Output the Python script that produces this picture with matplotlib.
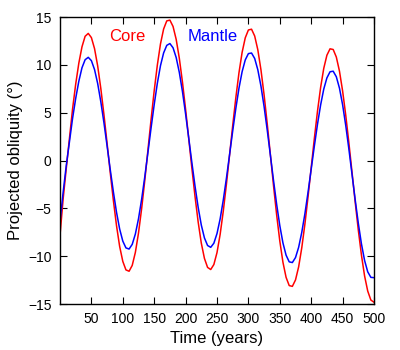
#importing necessary libraries
import matplotlib
matplotlib.use("Agg")
import matplotlib.pyplot as plt

# time axis in years (every 5 years)
years = list(range(0, 505, 5))

# projected obliquity of the core, degrees
core = [
    -7.8, -4.0, -0.8, 2.3, 5.4, 8.0, 10.2, 11.9, 13.0, 13.3,
    12.86, 11.71, 9.90, 7.54, 4.80, 1.80, -1.25, -4.16, -6.80, -8.97,
    -10.53, -11.42, -11.56, -10.95, -9.59, -7.57, -5.01, -2.07, 1.09, 4.29,
    7.31, 9.99, 12.20, 13.76, 14.61, 14.69, 14.03, 12.68, 10.70, 8.21,
    5.36, 2.30, -0.80, -3.74, -6.41, -8.62, -10.22, -11.16, -11.38, -10.86,
    -9.61, -7.71, -5.28, -2.46, 0.58, 3.66, 6.59, 9.19, 11.32, 12.84,
    13.66, 13.74, 13.03, 11.59, 9.49, 6.87, 3.84, 0.63, -2.61, -5.68,
    -8.40, -10.62, -12.20, -13.06, -13.14, -12.47, -11.10, -9.10, -6.61, -3.76,
    -0.73, 2.31, 5.16, 7.65, 9.65, 11.02, 11.69, 11.62, 10.83, 9.36,
    7.29, 4.75, 1.86, -1.21, -4.30, -7.25, -9.87, -12.05, -13.63, -14.57,
    -14.8,
]

# projected obliquity of the mantle, degrees
mantle = [
    -6.4, -3.3, -0.5, 1.95, 4.41, 6.51, 8.31, 9.71, 10.55, 10.80,
    10.45, 9.52, 8.06, 6.15, 3.95, 1.53, -0.93, -3.27, -5.40, -7.15,
    -8.41, -9.12, -9.24, -8.75, -7.67, -6.07, -4.04, -1.69, 0.84, 3.41,
    5.86, 8.09, 9.93, 11.26, 12.05, 12.24, 11.80, 10.78, 9.22, 7.22,
    4.88, 2.36, -0.21, -2.66, -4.88, -6.73, -8.08, -8.87, -9.06, -8.63,
    -7.62, -6.09, -4.12, -1.84, 0.62, 3.10, 5.47, 7.58, 9.30, 10.53,
    11.19, 11.25, 10.68, 9.50, 7.79, 5.65, 3.19, 0.57, -2.07, -4.57,
    -6.79, -8.60, -9.88, -10.58, -10.65, -10.13, -9.06, -7.49, -5.54, -3.29,
    -0.89, 1.52, 3.80, 5.82, 7.48, 8.65, 9.29, 9.35, 8.77, 7.58,
    5.85, 3.68, 1.21, -1.43, -4.06, -6.53, -8.70, -10.43, -11.62, -12.20,
    -12.23,
]

x_ticks = [50, 100, 150, 200, 250, 300, 350, 400, 450, 500]
y_ticks = [-15, -10, -5, 0, 5, 10, 15]


def main():
    plt.rcParams["font.family"] = ["Liberation Sans", "DejaVu Sans"]

    fig = plt.figure(figsize=(4, 3.5), dpi=100)
    ax = fig.add_axes([0.15, 0.131, 0.785, 0.82])

    # the two curves
    ax.plot(years, core, color="#ff0000", lw=1.1)
    ax.plot(years, mantle, color="#0000ff", lw=1.1)

    # labels in the plot instead of a legend
    ax.text(107, 13.0, "Core", color="#ff0000", fontsize=12, ha="center", va="center")
    ax.text(243, 13.0, "Mantle", color="#0000ff", fontsize=12, ha="center", va="center")

    ax.set_xlim(0, 500)
    ax.set_ylim(-15, 15)
    ax.set_xticks(x_ticks)
    ax.set_yticks(y_ticks)
    ax.tick_params(direction="in", top=True, right=True, length=5, width=0.8,
                   labelsize=10, pad=6)
    for s in ax.spines.values():
        s.set_linewidth(1.0)

    ax.set_xlabel("Time (years)", fontsize=12, labelpad=3)
    ax.set_ylabel("Projected obliquity (°)", fontsize=12, labelpad=4)

    fig.savefig("out.png", dpi=100)
    plt.close(fig)


if __name__ == "__main__":
    main()
